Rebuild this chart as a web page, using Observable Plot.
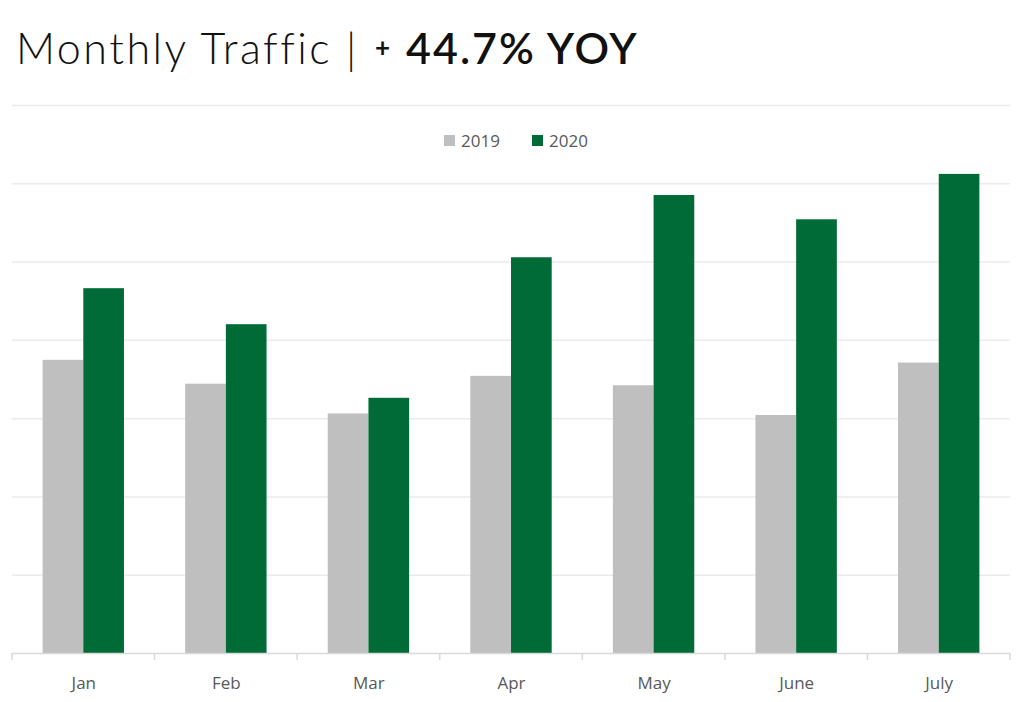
<!DOCTYPE html>
<html><head><meta charset="utf-8">
<script src="https://cdn.jsdelivr.net/npm/d3@7"></script>
<script src="https://cdn.jsdelivr.net/npm/@observablehq/plot@0.6"></script>
<style>
body{margin:0;background:#fff;width:1024px;height:702px;overflow:hidden;position:relative}
.t{position:absolute;top:22px;font-family:Lato,sans-serif;font-size:43px;color:#111;white-space:nowrap;line-height:1.2}
.t.light{font-weight:300;letter-spacing:2.5px;left:16px}
.t.bar{font-weight:300;left:346px}
.t.plus{font-weight:700;font-size:26px;top:32px;left:375px}
.t.bold{font-weight:600;letter-spacing:2px;left:406px}
#chart{position:absolute;left:0;top:90px}
.leg{position:absolute;top:132px;font-family:"Open Sans",sans-serif;font-size:17px;color:#595959;display:flex;align-items:center;line-height:1}
.leg i{display:inline-block;width:11px;height:11px;margin-right:6px}
</style></head><body>
<div class="t light">Monthly Traffic</div>
<div class="t bar">|</div>
<div class="t plus">+</div>
<div class="t bold">44.7% YOY</div>
<div id="chart"></div>
<script>
const months = ["Jan","Feb","Mar","Apr","May","June","July"];
const years = ["2019","2020"];
const v2019 = [3.745,3.44,3.06,3.54,3.42,3.04,3.71];
const v2020 = [4.66,4.20,3.26,5.055,5.85,5.54,6.12];
const colors = ["#bfbfbf","#006b36"];
const gridValues = [1,2,3,4,5,6,7];

const data2019 = months.map((m,i)=>({month:m, year:"2019", value:v2019[i]}));
const data2020 = months.map((m,i)=>({month:m, year:"2020", value:v2020[i]}));

function bandTicks(index, scales, values, dimensions) {
  const x = scales.x, y = scales.y;
  const step = x(months[1]) - x(months[0]);
  const xs = months.map(m => x(m)).concat([x(months[months.length-1]) + step]);
  const y0 = y(0);
  const g = d3.create("svg:g");
  g.selectAll("line").data(xs).join("line")
    .attr("x1", d=>d).attr("x2", d=>d)
    .attr("y1", y0).attr("y2", y0 + 7)
    .attr("stroke", "#d9d9d9").attr("stroke-width", 1.5);
  return g.node();
}

const chart = Plot.plot({
  width: 1024, height: 612,
  marginTop: 15, marginBottom: 49, marginLeft: 12, marginRight: 14,
  x: {type: "band", domain: months, padding: 0, round: false},
  y: {domain: [0, 7], axis: null},
  color: {domain: years, range: colors},
  style: {fontFamily: "'Open Sans', sans-serif", fontSize: "17px", color: "#595959", background: "transparent"},
  marks: [
    Plot.ruleY(gridValues, {stroke: "#ebebeb", strokeWidth: 1.5}),
    Plot.barY(data2019, {x: "month", y: "value", fill: "year", insetLeft: 30.6, insetRight: 71.3}),
    Plot.barY(data2020, {x: "month", y: "value", fill: "year", insetLeft: 71.3, insetRight: 30.6}),
    Plot.ruleY([0], {stroke: "#d9d9d9", strokeWidth: 1.5}),
    bandTicks,
    Plot.axisX({tickSize: 0, tickPadding: 23, label: null, fill: "#595959", fontSize: 17})
  ]
});
document.getElementById("chart").appendChild(chart);

const legX = [444, 532];
years.forEach((yr, i) => {
  const d = document.createElement("div");
  d.className = "leg";
  d.style.left = legX[i] + "px";
  d.innerHTML = `<i style="background:${colors[i]}"></i><span>${yr}</span>`;
  document.body.appendChild(d);
});
</script>
</body></html>
